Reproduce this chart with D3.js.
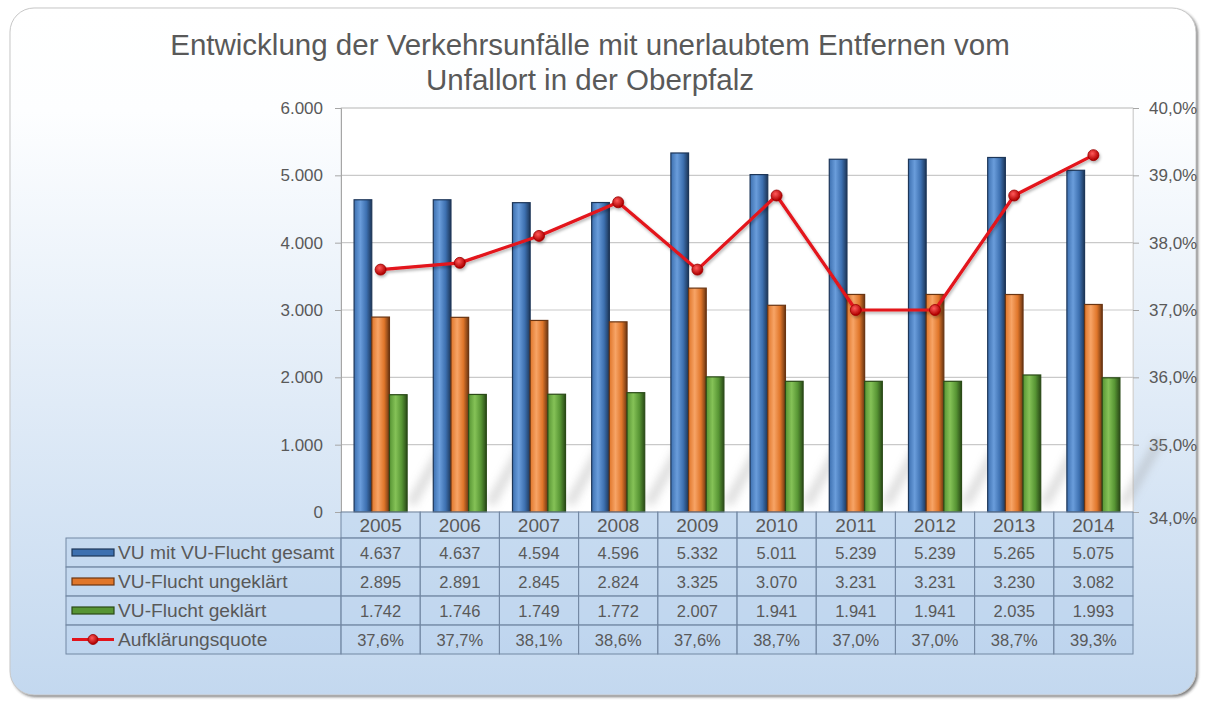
<!DOCTYPE html>
<html>
<head>
<meta charset="utf-8">
<script src="https://cdn.jsdelivr.net/npm/d3@7"></script>
<style>
  html, body { margin: 0; padding: 0; background: #ffffff; }
  svg { display: block; font-family: 'Liberation Sans', Arial, sans-serif; }
</style>
</head>
<body>
<div class="container"></div>
<script>
const years = ['2005', '2006', '2007', '2008', '2009', '2010', '2011', '2012', '2013', '2014'];
const gesamt = [4637, 4637, 4594, 4596, 5332, 5011, 5239, 5239, 5265, 5075];
const ungeklaert = [2895, 2891, 2845, 2824, 3325, 3070, 3231, 3231, 3230, 3082];
const geklaert = [1742, 1746, 1749, 1772, 2007, 1941, 1941, 1941, 2035, 1993];
const quote = [37.6, 37.7, 38.1, 38.6, 37.6, 38.7, 37.0, 37.0, 38.7, 39.3];
const seriesNames = ['VU mit VU-Flucht gesamt', 'VU-Flucht ungeklärt', 'VU-Flucht geklärt', 'Aufklärungsquote'];
const yTicks = [0, 1000, 2000, 3000, 4000, 5000, 6000];
const y2Ticks = [34, 35, 36, 37, 38, 39, 40];
const titleLines = ['Entwicklung der Verkehrsunfälle mit unerlaubtem Entfernen vom', 'Unfallort in der Oberpfalz'];

const W = 1206, H = 702;
const plotLeft = 341, plotRight = 1133, plotTop = 108, plotBottom = 512;
const labelLeft = 66;
const headerH = 26, rowH = 29;
const textColor = '#595959';
const gridColor = '#c9c9c9';
const tableStroke = '#7388a3';

const de = d3.formatLocale({ decimal: ',', thousands: '.', grouping: [3], currency: ['', ' €'] });
const fmtInt = de.format(',d');
const fmtPct = v => de.format('.1f')(v) + '%';

const barSeries = [
  { name: seriesNames[0], values: gesamt, dark: '#1d3658', mid: '#3d70b0', light: '#6a9ddb' },
  { name: seriesNames[1], values: ungeklaert, dark: '#6a3512', mid: '#e0762a', light: '#f7a466' },
  { name: seriesNames[2], values: geklaert, dark: '#2a4a17', mid: '#579534', light: '#85c257' }
];
const lineColor = '#e3131b';

const svg = d3.select('.container').append('svg')
  .attr('width', W).attr('height', H);

const defs = svg.append('defs');

// panel background
const bgGrad = defs.append('linearGradient').attr('id', 'bg')
  .attr('x1', 0).attr('y1', 0).attr('x2', 0).attr('y2', 1);
bgGrad.append('stop').attr('offset', '0').attr('stop-color', '#ffffff');
bgGrad.append('stop').attr('offset', '0.15').attr('stop-color', '#fdfeff');
bgGrad.append('stop').attr('offset', '1').attr('stop-color', '#c3d8ef');

const shadowBlur = defs.append('filter').attr('id', 'panelShadow')
  .attr('x', '-5%').attr('y', '-5%').attr('width', '110%').attr('height', '110%');
shadowBlur.append('feGaussianBlur').attr('stdDeviation', 1.5);

const streakBlur = defs.append('filter').attr('id', 'streak')
  .attr('x', '-50%').attr('y', '-50%').attr('width', '200%').attr('height', '200%');
streakBlur.append('feGaussianBlur').attr('stdDeviation', 4);

const lineShadow = defs.append('filter').attr('id', 'lineShadow')
  .attr('x', '-10%').attr('y', '-10%').attr('width', '120%').attr('height', '130%');
lineShadow.append('feDropShadow').attr('dx', 1).attr('dy', 2).attr('stdDeviation', 1.5)
  .attr('flood-color', '#000').attr('flood-opacity', 0.3);

barSeries.forEach((s, i) => {
  const g = defs.append('linearGradient').attr('id', 'bar' + i)
    .attr('x1', 0).attr('y1', 0).attr('x2', 1).attr('y2', 0);
  g.append('stop').attr('offset', '0').attr('stop-color', s.mid);
  g.append('stop').attr('offset', '0.35').attr('stop-color', s.light);
  g.append('stop').attr('offset', '0.7').attr('stop-color', s.mid);
  g.append('stop').attr('offset', '1').attr('stop-color', s.dark);
});

const markerGrad = defs.append('radialGradient').attr('id', 'marker')
  .attr('cx', '0.4').attr('cy', '0.35').attr('r', '0.6');
markerGrad.append('stop').attr('offset', '0').attr('stop-color', '#ff5a5a');
markerGrad.append('stop').attr('offset', '1').attr('stop-color', '#b00000');

// panel
svg.append('rect')
  .attr('x', 12).attr('y', 10).attr('width', 1186).attr('height', 687)
  .attr('rx', 24).attr('fill', '#222').attr('opacity', 0.6)
  .attr('filter', 'url(#panelShadow)');
svg.append('rect')
  .attr('x', 10).attr('y', 8).attr('width', 1186).attr('height', 687)
  .attr('rx', 24).attr('fill', 'url(#bg)').attr('stroke', '#c8c8c8').attr('stroke-width', 1);

// title
svg.append('g').selectAll('text')
  .data(titleLines)
  .enter()
  .append('text')
  .attr('x', 590)
  .attr('y', (d, i) => 55 + i * 35)
  .attr('text-anchor', 'middle')
  .style('font-size', '29.5px')
  .style('fill', textColor)
  .text(d => d);

// scales
const x = d3.scaleBand().domain(years).range([plotLeft, plotRight]).padding(0);
const xSub = d3.scaleBand().domain(barSeries.map(s => s.name))
  .range([0, x.bandwidth()]).paddingInner(0).paddingOuter(0.74);
const y = d3.scaleLinear().domain([0, 6000]).range([plotBottom, plotTop]);
const y2 = d3.scaleLinear().domain([34, 40]).range([plotBottom, plotTop]);

// plot area
svg.append('rect')
  .attr('x', plotLeft).attr('y', plotTop)
  .attr('width', plotRight - plotLeft).attr('height', plotBottom - plotTop)
  .attr('fill', '#ffffff').attr('stroke', '#d6d6d6');

// grid
svg.append('g').selectAll('line')
  .data(yTicks.filter(d => d > 0))
  .enter()
  .append('line')
  .attr('x1', plotLeft).attr('x2', plotRight)
  .attr('y1', d => y(d)).attr('y2', d => y(d))
  .attr('stroke', gridColor).attr('stroke-width', 1.2);

// left axis
const yAxis = d3.axisLeft(y).tickValues(yTicks).tickFormat(fmtInt).tickSize(6).tickPadding(12);
const gy = svg.append('g').attr('transform', `translate(${plotLeft},0)`).call(yAxis);
gy.select('.domain').attr('stroke', '#a6a6a6');
gy.selectAll('.tick line').attr('stroke', '#a6a6a6');
gy.selectAll('.tick text').style('font-size', '17px').style('fill', textColor)
  .style('font-family', "'Liberation Sans', Arial, sans-serif");

// right axis
const y2Axis = d3.axisRight(y2).tickValues(y2Ticks).tickFormat(fmtPct).tickSize(6).tickPadding(10);
const gy2 = svg.append('g').attr('transform', `translate(${plotRight},0)`).call(y2Axis);
gy2.select('.domain').attr('stroke', '#d6d6d6');
gy2.selectAll('.tick line').attr('stroke', '#a6a6a6');
gy2.selectAll('.tick text').style('font-size', '17px').style('fill', textColor)
  .style('font-family', "'Liberation Sans', Arial, sans-serif")
  .attr('dy', d => d === 34 ? '0.7em' : '0.32em');

// soft floor streaks behind the bars
svg.append('g').selectAll('line')
  .data(years)
  .enter()
  .append('line')
  .attr('x1', d => x(d) + xSub(barSeries[2].name) + xSub.bandwidth() + 4)
  .attr('y1', plotBottom - 8)
  .attr('x2', d => x(d) + xSub(barSeries[2].name) + xSub.bandwidth() + 40)
  .attr('y2', plotBottom - 72)
  .attr('stroke', '#9a9a9a').attr('stroke-width', 9).attr('opacity', 0.35)
  .attr('filter', 'url(#streak)');

// bars
barSeries.forEach((s, si) => {
  svg.append('g').selectAll('rect')
    .data(years.map((yr, i) => ({ year: yr, value: s.values[i] })))
    .enter()
    .append('rect')
    .attr('x', d => x(d.year) + xSub(s.name))
    .attr('y', d => y(d.value))
    .attr('width', xSub.bandwidth())
    .attr('height', d => plotBottom - y(d.value))
    .attr('fill', `url(#bar${si})`)
    .attr('stroke', s.dark).attr('stroke-width', 1.2);
});

// line
const lineData = years.map((yr, i) => ({ year: yr, value: quote[i] }));
const line = d3.line()
  .x(d => x(d.year) + x.bandwidth() / 2)
  .y(d => y2(d.value));
const lg = svg.append('g').attr('filter', 'url(#lineShadow)');
lg.append('path')
  .datum(lineData)
  .attr('d', line)
  .attr('fill', 'none')
  .attr('stroke', lineColor).attr('stroke-width', 3.2)
  .attr('stroke-linejoin', 'round');
lg.selectAll('circle')
  .data(lineData)
  .enter()
  .append('circle')
  .attr('cx', d => x(d.year) + x.bandwidth() / 2)
  .attr('cy', d => y2(d.value))
  .attr('r', 5.5)
  .attr('fill', 'url(#marker)')
  .attr('stroke', '#9a0000').attr('stroke-width', 0.8);

// data table
const table = svg.append('g');
const cellFill = 'rgba(175,202,234,0.35)';

// header row with years
table.selectAll('rect.head')
  .data(years)
  .enter()
  .append('rect')
  .attr('class', 'head')
  .attr('x', d => x(d)).attr('y', plotBottom)
  .attr('width', x.bandwidth()).attr('height', headerH)
  .attr('fill', cellFill).attr('stroke', tableStroke).attr('stroke-width', 1);
table.selectAll('text.head')
  .data(years)
  .enter()
  .append('text')
  .attr('class', 'head')
  .attr('x', d => x(d) + x.bandwidth() / 2)
  .attr('y', plotBottom + headerH / 2 + 7)
  .attr('text-anchor', 'middle')
  .style('font-size', '19px').style('fill', textColor)
  .text(d => d);

const rows = [
  { name: seriesNames[0], cells: gesamt.map(fmtInt), key: 'bar', color: barSeries[0] },
  { name: seriesNames[1], cells: ungeklaert.map(fmtInt), key: 'bar', color: barSeries[1] },
  { name: seriesNames[2], cells: geklaert.map(fmtInt), key: 'bar', color: barSeries[2] },
  { name: seriesNames[3], cells: quote.map(fmtPct), key: 'line' }
];

rows.forEach((r, ri) => {
  const top = plotBottom + headerH + ri * rowH;
  const mid = top + rowH / 2;
  table.append('rect')
    .attr('x', labelLeft).attr('y', top)
    .attr('width', plotLeft - labelLeft).attr('height', rowH)
    .attr('fill', cellFill).attr('stroke', tableStroke).attr('stroke-width', 1);
  table.append('g').selectAll('rect')
    .data(years)
    .enter()
    .append('rect')
    .attr('x', d => x(d)).attr('y', top)
    .attr('width', x.bandwidth()).attr('height', rowH)
    .attr('fill', cellFill).attr('stroke', tableStroke).attr('stroke-width', 1);
  table.append('g').selectAll('text')
    .data(r.cells)
    .enter()
    .append('text')
    .attr('x', (d, i) => x(years[i]) + x.bandwidth() / 2)
    .attr('y', mid + 6)
    .attr('text-anchor', 'middle')
    .style('font-size', '16.5px').style('fill', textColor)
    .text(d => d);
  // legend key
  if (r.key === 'bar') {
    table.append('rect')
      .attr('x', 72).attr('y', mid - 3.5)
      .attr('width', 42).attr('height', 7)
      .attr('fill', r.color.mid).attr('stroke', r.color.dark).attr('stroke-width', 1.2);
  } else {
    table.append('line')
      .attr('x1', 72).attr('x2', 114).attr('y1', mid).attr('y2', mid)
      .attr('stroke', lineColor).attr('stroke-width', 3);
    table.append('circle')
      .attr('cx', 93).attr('cy', mid).attr('r', 5)
      .attr('fill', 'url(#marker)').attr('stroke', '#9a0000').attr('stroke-width', 0.8);
  }
  table.append('text')
    .attr('x', 118).attr('y', mid + 6.5)
    .style('font-size', '19.2px').style('fill', textColor)
    .text(r.name);
});
</script>
</body>
</html>
